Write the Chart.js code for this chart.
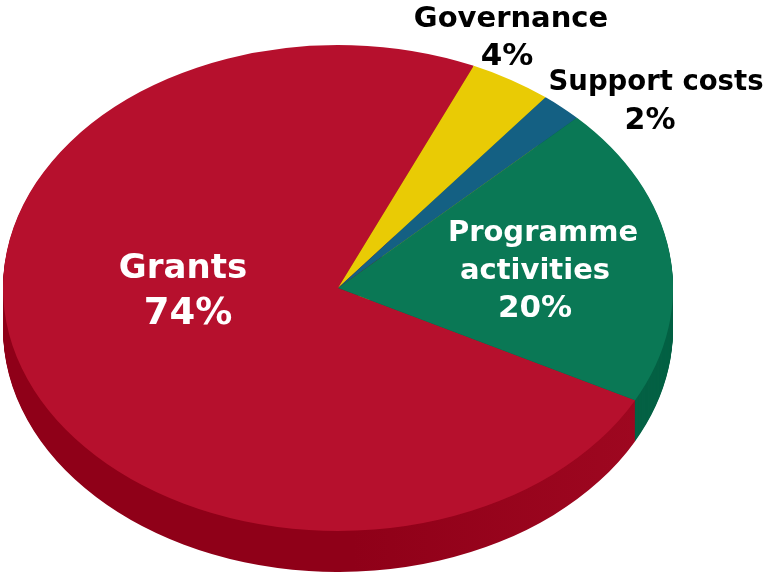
<!DOCTYPE html>
<html>
<head>
<meta charset="utf-8">
<title>Expenditure</title>
<script src="https://cdn.jsdelivr.net/npm/chart.js@4"></script>
<style>
    html, body { margin: 0; padding: 0; background: #fff; }
    canvas { display: block; }
</style>
</head>
<body>
<canvas id="pie" width="763" height="572"></canvas>
<script>
// Data
const categories = ["Grants", "Governance", "Support costs", "Programme activities"];
const shares = [74, 4, 2, 20];

// Slice colours, top face and rim
const topColors = ["#b6102d", "#e9cb05", "#146083", "#0a7855"];
const rimColors = ["#8f0018", "#b89f00", "#0c4a68", "#046144"];

// Tilt of the disc
const squash = 243 / 335;
const rimDepth = 41;

// Label lines: category text wrapped by hand, share added from the data
const labelLines = [["Grants"], ["Governance"], ["Support costs"], ["Programme", "activities"]];
const labelSpots = [
    { x: 183, y: 269, lineGap: 45, size: 34, pctSize: 37, color: "#fff", pctShift: 5 },
    { x: 511, y: 19, lineGap: 38, size: 29, pctSize: 31, color: "#000", pctShift: -4 },
    { x: 656, y: 83, lineGap: 38, size: 27.5, pctSize: 30, color: "#000", pctShift: -6 },
    { x: 543, y: 233, lineGap: 38, size: 29, pctSize: 31, color: "#fff", pctShift: -8, lineShift: -8 }
];

const tiltPlugin = {
    id: "tilt",
    beforeDatasetsDraw(chart) {
        const ctx = chart.ctx;
        const arcs = chart.getDatasetMeta(0).data;
        const cx = arcs[0].x, cy = arcs[0].y;

        ctx.save();
        // Rim: stacked copies of each slice, Grants last so it sits in front
        for (let i = arcs.length - 1; i >= 0; i--) {
            const arc = arcs[i];
            const saved = arc.options;
            const opts = Object.create(saved);
            if (i === 0) {
                const grad = ctx.createLinearGradient(cx - 335, 0, cx + 300, 0);
                grad.addColorStop(0, "#8f0018");
                grad.addColorStop(0.55, "#8f0018");
                grad.addColorStop(1, "#9e0720");
                opts.backgroundColor = grad;
            } else {
                opts.backgroundColor = rimColors[i];
            }
            arc.options = opts;
            for (let k = rimDepth; k >= 1; k--) {
                ctx.save();
                ctx.translate(cx, cy + k);
                ctx.scale(1, squash);
                ctx.translate(-cx, -cy);
                arc.draw(ctx);
                ctx.restore();
            }
            arc.options = saved;
        }
        // The library then draws the top face inside this transform
        ctx.translate(cx, cy);
        ctx.scale(1, squash);
        ctx.translate(-cx, -cy);
    },
    afterDatasetsDraw(chart) {
        const ctx = chart.ctx;
        ctx.restore();

        ctx.save();
        ctx.textAlign = "center";
        ctx.textBaseline = "middle";
        categories.forEach((name, i) => {
            const spot = labelSpots[i];
            ctx.fillStyle = spot.color;
            ctx.font = `bold ${spot.size}px 'DejaVu Sans'`;
            labelLines[i].forEach((line, n) => {
                ctx.fillText(line, spot.x + (n > 0 ? spot.lineShift : 0), spot.y + n * spot.lineGap);
            });
            ctx.font = `bold ${spot.pctSize}px 'DejaVu Sans'`;
            ctx.fillText(shares[i] + "%", spot.x + spot.pctShift, spot.y + labelLines[i].length * spot.lineGap);
        });
        ctx.restore();
    }
};

new Chart(document.getElementById("pie"), {
    type: "pie",
    data: {
        labels: categories,
        datasets: [{
            data: shares,
            backgroundColor: topColors,
            borderWidth: 0,
            radius: 335,
            clip: false
        }]
    },
    options: {
        responsive: false,
        animation: false,
        rotation: 117.5,
        layout: { padding: { left: 0, right: 87, top: 4, bottom: 0 } },
        plugins: { legend: { display: false }, tooltip: { enabled: false } }
    },
    plugins: [tiltPlugin]
});
</script>
</body>
</html>
